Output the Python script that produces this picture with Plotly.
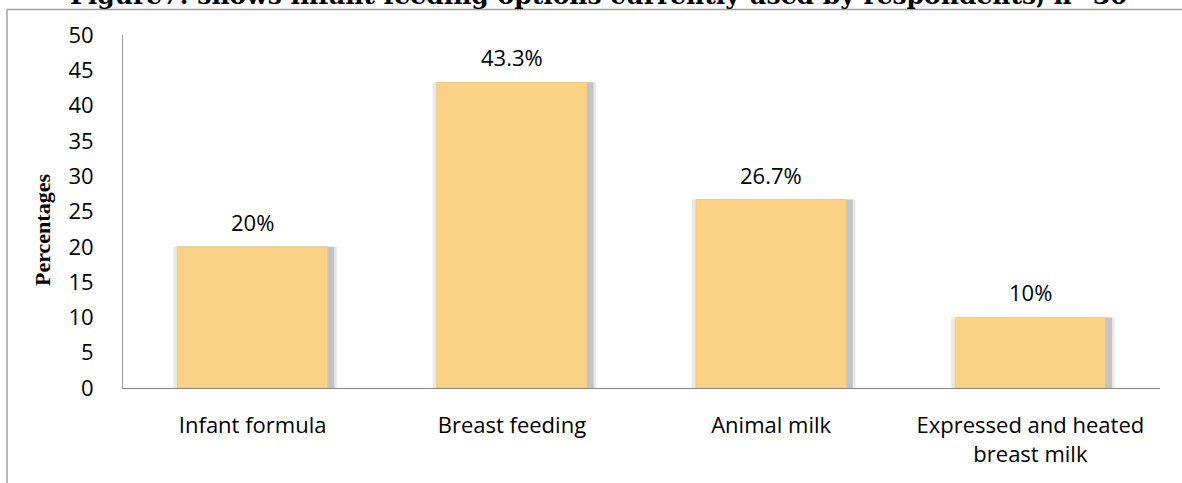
import plotly.graph_objects as go

# Infant feeding options currently used by respondents (n=30)
categories = ["Infant formula", "Breast feeding", "Animal milk",
              "Expressed and heated<br>breast milk"]
percentages = [20, 43.3, 26.7, 10]
y_ticks = [0, 5, 10, 15, 20, 25, 30, 35, 40, 45, 50]

W, H = 1182, 483
L, R, T, B = 123, 22, 35, 95
PW, PH = W - L - R, H - T - B


def px_x(x):
    """Horizontal pixel position -> paper coordinate."""
    return (x - L) / PW


def px_y(y):
    """Vertical pixel position (from top) -> paper coordinate."""
    return (H - B - y) / PH


tick_font = dict(family="Open Sans, sans-serif", size=22, color="#000000")

fig = go.Figure()

# soft drop shadow behind each bar
fig.add_trace(go.Bar(
    x=categories, y=percentages,
    width=0.63, offset=-0.305,
    marker=dict(color="rgba(190,190,190,0.35)", line=dict(width=0)),
    hoverinfo="skip", showlegend=False,
))
fig.add_trace(go.Bar(
    x=categories, y=percentages,
    width=0.60, offset=-0.285,
    marker=dict(color="rgba(150,150,150,0.45)", line=dict(width=0)),
    hoverinfo="skip", showlegend=False,
))
# main bars
fig.add_trace(go.Bar(
    x=categories, y=percentages,
    width=0.58, offset=-0.29,
    marker=dict(color="#FBD185", line=dict(color="#E6C276", width=0.6)),
    showlegend=False,
))

# value labels above bars
for c, v in zip(categories, percentages):
    fig.add_annotation(
        x=c, y=v, xref="x", yref="y",
        text=f"{v:g}%", showarrow=False,
        yshift=25, font=tick_font,
    )

# chart title, running off the top edge of the page
fig.add_annotation(
    x=px_x(598), y=px_y(-4), xref="paper", yref="paper",
    text="<b>Figure7: shows infant feeding options currently used by respondents, n=30</b>",
    showarrow=False, xanchor="center", yanchor="middle",
    font=dict(family="DejaVu Serif, serif", size=25, color="#000000"),
)

# vertical axis title
fig.add_annotation(
    x=px_x(42), y=px_y(230), xref="paper", yref="paper",
    text="<b>Percentages</b>", textangle=-90, showarrow=False,
    xanchor="center", yanchor="middle",
    font=dict(family="Liberation Serif, serif", size=22, color="#000000"),
)

# outer frame (left and top edges)
fig.add_shape(type="line", xref="paper", yref="paper",
              x0=px_x(7), x1=px_x(W + 5), y0=px_y(9.5), y1=px_y(9.5),
              line=dict(color="#A0A0A0", width=1.5))
fig.add_shape(type="line", xref="paper", yref="paper",
              x0=px_x(7), x1=px_x(7), y0=px_y(9.5), y1=px_y(H + 5),
              line=dict(color="#A0A0A0", width=1.5))

fig.update_layout(
    width=W, height=H,
    margin=dict(l=L, r=R, t=T, b=B),
    paper_bgcolor="white", plot_bgcolor="white",
    barmode="overlay",
)
fig.update_xaxes(
    showline=True, linecolor="#868686", linewidth=1,
    ticks="", tickfont=tick_font, showgrid=False,
    ticklabelstandoff=18,
)
fig.update_yaxes(
    range=[0, 50], tickvals=y_ticks, showgrid=False,
    showline=True, linecolor="#A0A0A0", linewidth=1,
    ticks="", tickfont=tick_font, ticklabelstandoff=24,
    zeroline=False,
)

fig.write_html("out.html")
